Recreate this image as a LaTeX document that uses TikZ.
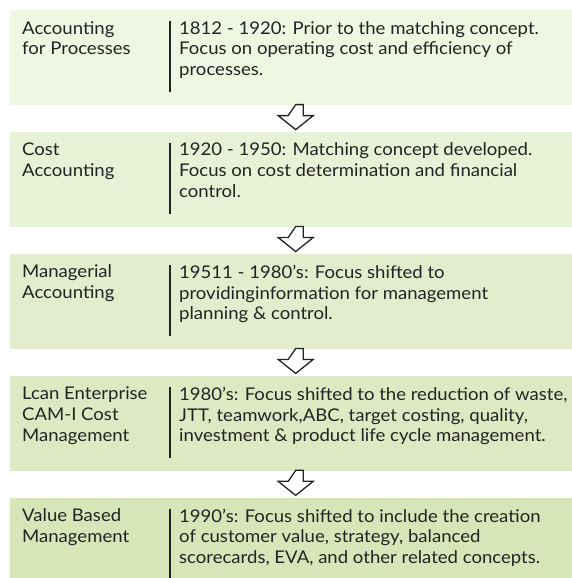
\documentclass[tikz,border=0pt]{standalone}
\usepackage{fontspec}
\setmainfont{Lato}[FakeStretch=1.06]
\usepackage{tikz}
\usetikzlibrary{calc, positioning}

\definecolor{stageA}{RGB}{239,246,226}
\definecolor{stageB}{RGB}{231,241,214}
\definecolor{stageC}{RGB}{226,237,205}
\definecolor{stageD}{RGB}{220,233,195}
\definecolor{stageE}{RGB}{214,230,184}
\definecolor{ink}{RGB}{35,35,35}

% hollow block arrow between two stage boxes
\newcommand{\flowarrow}[2]{%
  \draw[flow] ($(#1.south)!0.5!(#2.north)+(4.5,14)$) -- ++(7.5,0) -- ++(0,-11)
    -- ++(10,0) -- ++(-17.5,-14) -- ++(-17.5,14) -- ++(10,0) -- cycle;}

\begin{document}
\begin{tikzpicture}[x=1pt, y=1pt, node distance=26.5pt, font=\fontsize{17.5}{20.8}\selectfont, text=ink]
    % Define styles locally
    \tikzstyle{stage} = [rectangle, inner sep=0, minimum width=562pt, minimum height=95pt, anchor=north west]
    \tikzstyle{title} = [anchor=north west, align=left, inner sep=0, execute at begin node=\strut]
    \tikzstyle{info} = [anchor=north west, align=left, inner sep=0, execute at begin node=\strut]
    \tikzstyle{bar} = [draw=ink, line width=2.5pt]
    \tikzstyle{flow} = [draw=ink, line width=1.3pt, fill=white, line join=miter]

    \useasboundingbox (0,0) rectangle (572,578);

    % Boxes
    \node[stage, fill=stageA] (S1) at (10,568) {};
    \node[stage, fill=stageB, below=of S1] (S2) {};
    \node[stage, fill=stageC, below=of S2] (S3) {};
    \node[stage, fill=stageD, below=of S3] (S4) {};
    \node[stage, fill=stageE, below=of S4] (S5) {};

    % Titles
    \node[title] (T1) at ($(S1.north west)+(12,-11)$) {Accounting\\for Processes};
    \node[title] (T2) at ($(S2.north west)+(12,-11)$) {Cost\\Accounting};
    \node[title] (T3) at ($(S3.north west)+(12,-11)$) {Managerial\\Accounting};
    \node[title] (T4) at ($(S4.north west)+(12,-11)$) {Lcan Enterprise\\CAM-I Cost\\Management};
    \node[title] (T5) at ($(S5.north west)+(12,-11)$) {Value Based\\Management};

    % Bars
    \foreach \s in {S1,S2,S3,S4,S5}
        \draw[bar] ($(\s.north west)+(160,-11)$) -- ($(\s.north west)+(160,-82)$);

    % Descriptions
    \node[info] (D1) at ($(S1.north west)+(169,-11)$) {1812 - 1920: Prior to the matching concept.\\Focus on operating cost and efficiency of\\processes.};
    \node[info] (D2) at ($(S2.north west)+(169,-11)$) {1920 - 1950: Matching concept developed.\\Focus on cost determination and financial\\control.};
    \node[info] (D3) at ($(S3.north west)+(169,-11)$) {19511 - 1980's: Focus shifted to\\providinginformation for management\\planning \& control.};
    \node[info] (D4) at ($(S4.north west)+(169,-11)$) {1980's: Focus shifted to the reduction of waste,\\JTT, teamwork,ABC, target costing, quality,\\investment \& product life cycle management.};
    \node[info] (D5) at ($(S5.north west)+(169,-11)$) {1990's: Focus shifted to include the creation\\of customer value, strategy, balanced\\scorecards, EVA, and other related concepts.};

    % Arrows
    \flowarrow{S1}{S2}
    \flowarrow{S2}{S3}
    \flowarrow{S3}{S4}
    \flowarrow{S4}{S5}

\end{tikzpicture}
\end{document}
